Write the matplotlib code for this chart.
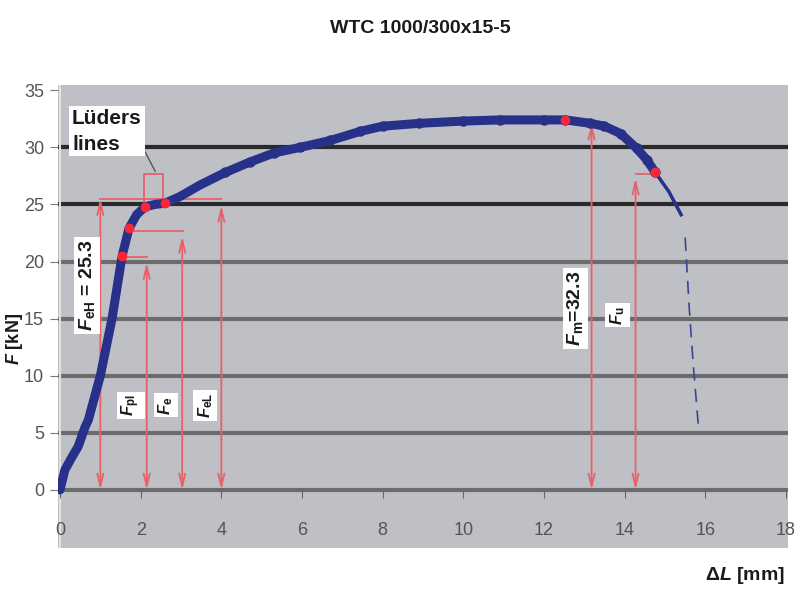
import matplotlib
matplotlib.use("Agg")
import matplotlib.pyplot as plt

plt.rcParams['font.family'] = ['Liberation Sans', 'DejaVu Sans']
plt.rcParams['mathtext.fontset'] = 'custom'
plt.rcParams['mathtext.rm'] = 'Liberation Sans'
plt.rcParams['mathtext.it'] = 'Liberation Sans:italic'
plt.rcParams['mathtext.bf'] = 'Liberation Sans:bold'
plt.rcParams['mathtext.bfit'] = 'Liberation Sans:bold:italic'

# force-elongation curve
dl = [0.0, 0.12, 0.3, 0.45, 0.62, 0.7, 1.0, 1.29, 1.54, 1.71, 1.9, 2.11, 2.36, 2.6,
      2.98, 3.47, 4.1, 4.7, 5.3, 5.96, 6.7, 7.45, 8.0, 8.9, 10.0, 10.9, 12.0, 12.53,
      13.15, 13.5, 13.9, 14.3, 14.55, 14.76]
force = [0.0, 1.75, 2.9, 3.8, 5.5, 6.1, 10.0, 15.0, 20.5, 22.9, 24.1, 24.8, 25.0, 25.1,
         25.7, 26.7, 27.8, 28.7, 29.5, 30.0, 30.6, 31.4, 31.85, 32.1, 32.3, 32.4, 32.4, 32.4,
         32.1, 31.85, 31.2, 29.9, 28.9, 27.8]
tail_dl = [14.76, 15.1, 15.4]
tail_f = [27.8, 26.1, 24.1]
break_dl = [15.5, 15.6, 15.7, 15.83]
break_f = [22.1, 16.0, 11.0, 5.5]

# marked points
mark_dl = [1.54, 1.71, 2.11, 2.6, 12.53, 14.76]
mark_f = [20.5, 22.9, 24.8, 25.1, 32.4, 27.8]

yticks = [0, 5, 10, 15, 20, 25, 30, 35]
xticks = [0, 2, 4, 6, 8, 10, 12, 14, 16, 18]

navy = '#28318a'
red = '#e8606a'
redpt = '#ff2535'

fig = plt.figure(figsize=(8, 6), dpi=100)
ax = fig.add_axes([0.0725, 0.087, 0.9125, 0.771])
ax.set_facecolor('#bfc0c5')
ax.set_xlim(-0.05, 18.05)
ax.set_ylim(-5.07, 35.44)

# grid lines
for g in [0, 5, 10, 15, 20, 25, 30]:
    c = '#2a2a2a' if g in (25, 30) else '#6c6c6e'
    ax.axhline(g, color=c, lw=3, zorder=1)
ax.axvline(0, color='#e2e2e4', lw=1.5, zorder=1)

for s in ax.spines.values():
    s.set_visible(False)
ax.spines['bottom'].set_position(('data', 0))

ax.set_yticks(yticks)
ax.set_yticklabels([str(v) for v in yticks], color='#555555', fontsize=13)
ax.tick_params(axis='y', length=6, color='#777777', pad=4)
ax.set_xticks(xticks)
ax.set_xticklabels([str(v) for v in xticks], color='#555555', fontsize=13)
ax.tick_params(axis='x', length=6, color='#666666', pad=17, direction='out')

# curve: smooth thick part, beaded part from yield onward
ax.plot(dl, force, color=navy, lw=6.5, zorder=4, solid_capstyle='round')
ax.plot(dl[16:], force[16:], 'o', color=navy, ms=6.5, zorder=4)
ax.plot(tail_dl, tail_f, color=navy, lw=2.5, zorder=4)
ax.plot(break_dl, break_f, color='#3a4590', lw=1.2, ls=(0, (8, 5)), zorder=4)
ax.plot(mark_dl, mark_f, 'o', color=redpt, ms=6, zorder=5)

# red dimension lines
arrow = dict(arrowstyle='<->,head_length=0.9,head_width=0.22', color=red, lw=1.3,
             shrinkA=0, shrinkB=0)
def varrow(x, top):
    ax.annotate('', xy=(x, 0), xytext=(x, top), arrowprops=arrow, zorder=3)

ax.plot([1.0, 4.0], [25.5, 25.5], color=red, lw=1.3, zorder=3)
varrow(1.0, 25.5)
varrow(4.0, 24.9)
ax.plot([1.71, 3.05], [22.7, 22.7], color=red, lw=1.3, zorder=3)
varrow(3.03, 22.2)
ax.plot([1.54, 2.16], [20.4, 20.4], color=red, lw=1.3, zorder=3)
varrow(2.15, 19.9)
varrow(13.18, 32.1)
ax.plot([14.27, 14.76], [27.7, 27.7], color=red, lw=1.3, zorder=3)
varrow(14.27, 27.3)

# Lueders bracket
ax.plot([2.08, 2.08, 2.56, 2.56], [25.0, 27.7, 27.7, 25.0], color=red, lw=1.3, zorder=3)
ax.plot([0.25, 1.74, 2.36], [32.1, 32.1, 27.9], color='#555555', lw=1, zorder=3)
ax.text(0.3, 31.4, 'Lüders\nlines', fontsize=15, fontweight='bold', color='#1a1a1a',
        ha='left', va='center', linespacing=1.45, zorder=6,
        bbox=dict(facecolor='white', edgecolor='none', pad=2))

box = dict(facecolor='white', edgecolor='none', pad=2)
def vlabel(x, y, s, fs=13):
    ax.text(x, y, s, rotation=90, ha='center', va='center', fontsize=fs,
            fontweight='bold', color='#1a1a1a', bbox=box, zorder=6)

vlabel(0.67, 17.9, r'$\mathbfit{F}_{\mathbf{eH}}$ = 25.3', 14)
vlabel(1.76, 7.4, r'$\mathbfit{F}_{\mathbf{pl}}$', 12)
vlabel(2.63, 7.4, r'$\mathbfit{F}_{\mathbf{e}}$', 12)
vlabel(3.6, 7.4, r'$\mathbfit{F}_{\mathbf{eL}}$', 12)
vlabel(12.78, 15.9, r'$\mathbfit{F}_{\mathbf{m}}$=32.3', 14)
vlabel(13.82, 15.3, r'$\mathbfit{F}_{\mathbf{u}}$', 12)

fig.text(0.525, 0.952, 'WTC 1000/300x15-5', ha='center', va='center',
         fontsize=14, fontweight='bold', color='#1a1a1a')
fig.text(0.981, 0.04, r'$\mathbf{\Delta}\mathbfit{L}$ [mm]', ha='right', va='center',
         fontsize=14, fontweight='bold', color='#1a1a1a')
fig.text(0.018, 0.435, r'$\mathbfit{F}$ [kN]', ha='center', va='center', rotation=90,
         fontsize=13, fontweight='bold', color='#1a1a1a')

fig.savefig('out.png', dpi=100, facecolor='white')
